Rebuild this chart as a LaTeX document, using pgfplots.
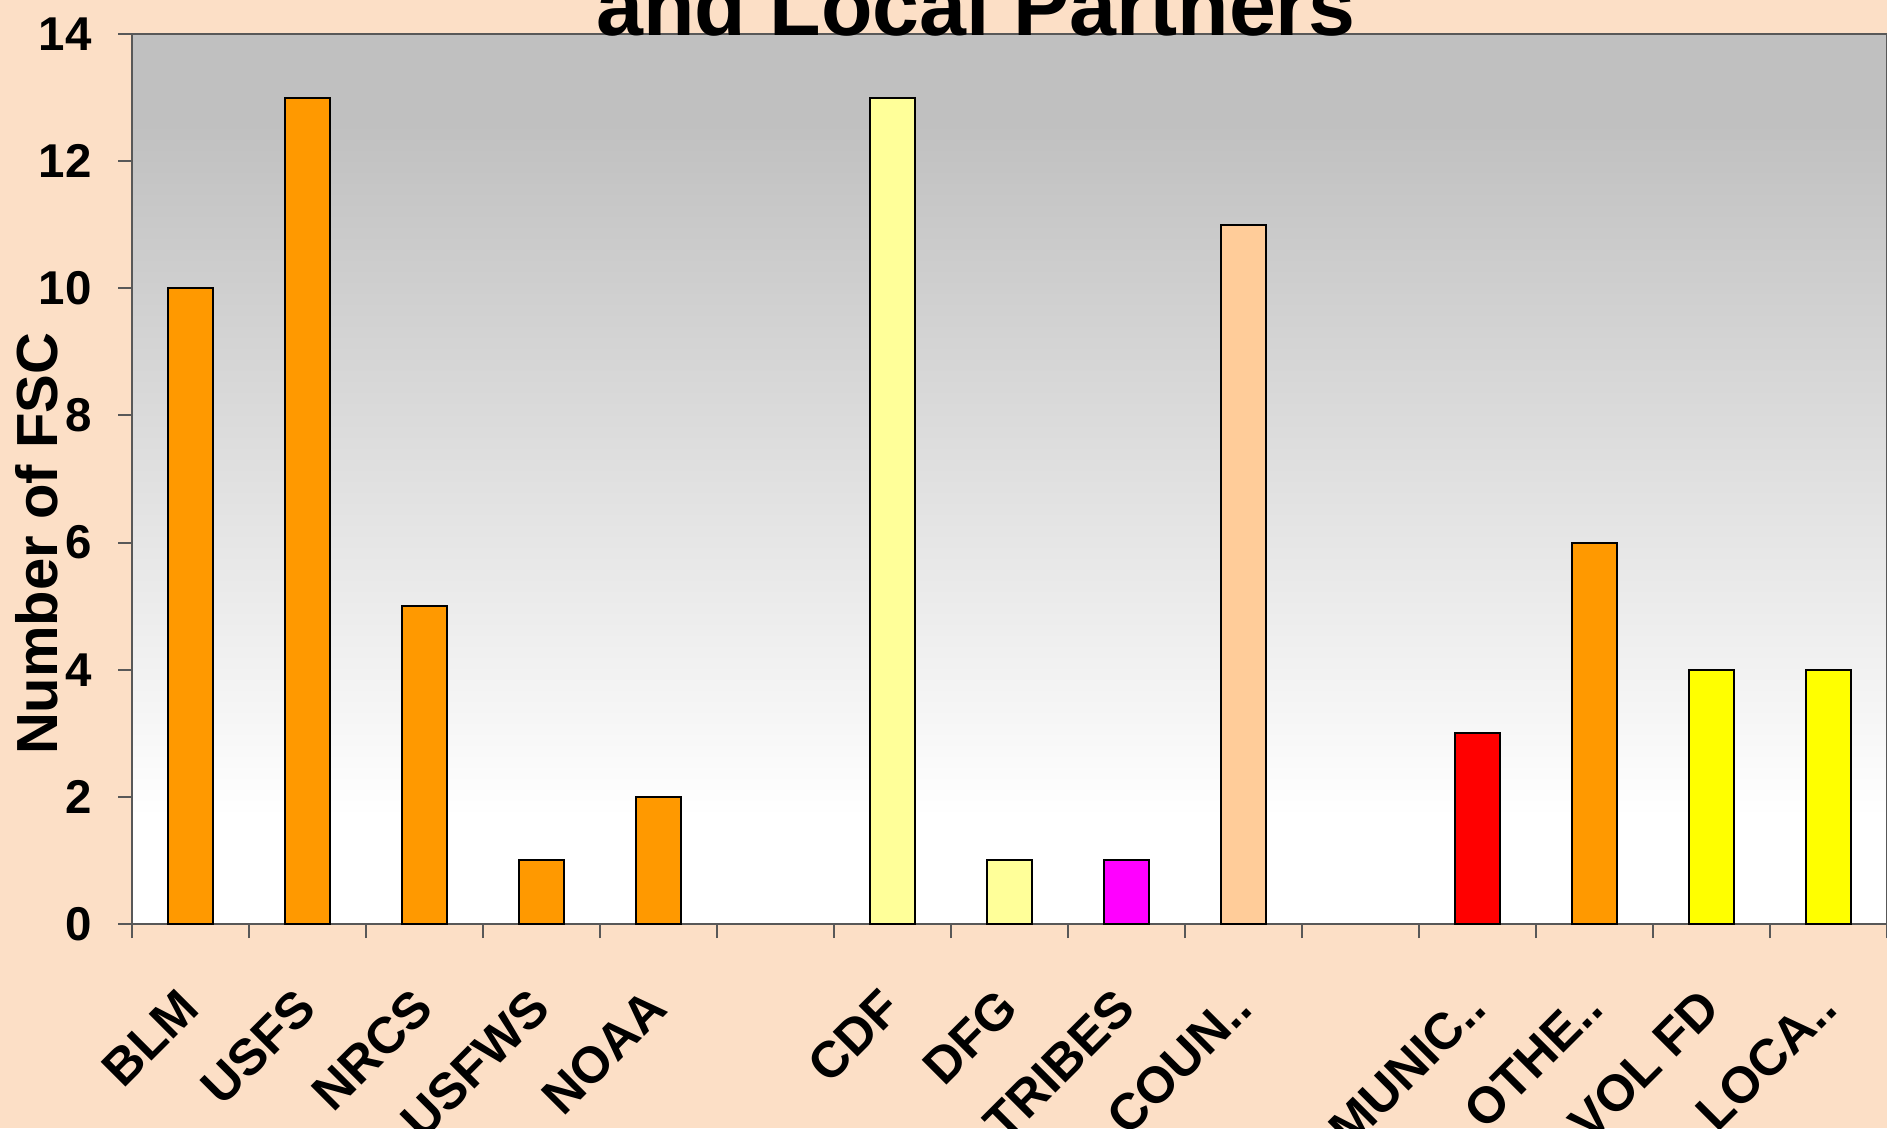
\documentclass[border=0pt]{standalone}
\usepackage{pgfplots}
\pgfplotsset{compat=1.18}
\usepackage{fontspec}
\setmainfont{Liberation Sans}

\definecolor{bgpeach}{HTML}{FCDFC6}
\definecolor{plotgray}{HTML}{C0C0C0}
\definecolor{xlorange}{HTML}{FF9900}
\definecolor{xllightyellow}{HTML}{FFFF99}
\definecolor{xlmagenta}{HTML}{FF00FF}
\definecolor{xltan}{HTML}{FFCC99}
\definecolor{xlred}{HTML}{FF0000}
\definecolor{xlyellow}{HTML}{FFFF00}
\definecolor{axisgray}{HTML}{585858}

% gray near the top, white near the bottom of the plot area
\pgfdeclareverticalshading{plotbg}{100bp}{color(0bp)=(white); color(25bp)=(white);
  color(31bp)=(white); color(70bp)=(plotgray); color(100bp)=(plotgray)}

\begin{document}
\begin{tikzpicture}
\clip (0,0) rectangle (18.87cm,11.28cm);
\fill[bgpeach] (0,0) rectangle (18.87cm,11.28cm);
\begin{axis}[
    at={(1.32cm,2.04cm)}, anchor=south west,
    scale only axis,
    width=17.55cm, height=8.90cm,
    xmin=0, xmax=15,
    ymin=0, ymax=14,
    axis background/.style={shading=plotbg},
    axis line style={draw=axisgray, line width=0.6pt},
    xtick={0.5,1.5,...,14.5},
    xticklabels={BLM,USFS,NRCS,USFWS,NOAA,{},CDF,DFG,TRIBES,COUN..,{},MUNIC..,OTHE..,VOL FD,LOCA..},
    minor xtick={0,1,...,15},
    major x tick style={draw=none},
    minor x tick style={draw=axisgray, line width=0.6pt},
    ytick={0,2,...,14},
    ytick style={draw=axisgray, line width=0.6pt},
    tick align=outside,
    xtick pos=bottom, ytick pos=left,
    major tick length=0.14cm,
    minor tick length=0.14cm,
    /pgf/number format/assume math mode=true,
    tick label style={font=\bfseries\fontsize{13.5}{15}\selectfont},
    yticklabel style={xshift=-0.14cm},
    xticklabel style={rotate=45, anchor=north east, yshift=-0.12cm, xshift=-0.32cm,
        font=\bfseries\fontsize{14.5}{17}\selectfont},
    ylabel={Number of FSC},
    ylabel style={at={(axis description cs:-0.054,0.427)}, anchor=center,
        font=\bfseries\fontsize{16.5}{20}\selectfont},
    every axis plot/.append style={ybar, bar width=0.39, bar shift=0pt, draw=black, line width=0.6pt},
]
\addplot[fill=xlorange] coordinates {(0.5,10) (1.5,13) (2.5,5) (3.5,1) (4.5,2) (12.5,6)};
\addplot[fill=xllightyellow] coordinates {(6.5,13) (7.5,1)};
\addplot[fill=xlmagenta] coordinates {(8.5,1)};
\addplot[fill=xltan] coordinates {(9.5,11)};
\addplot[fill=xlred] coordinates {(11.5,3)};
\addplot[fill=xlyellow] coordinates {(13.5,4) (14.5,4)};
\end{axis}
\node[anchor=base, font=\bfseries\fontsize{24}{28}\selectfont, inner sep=0pt]
    at (9.76cm,10.92cm) {and Local Partners};
\end{tikzpicture}
\end{document}
